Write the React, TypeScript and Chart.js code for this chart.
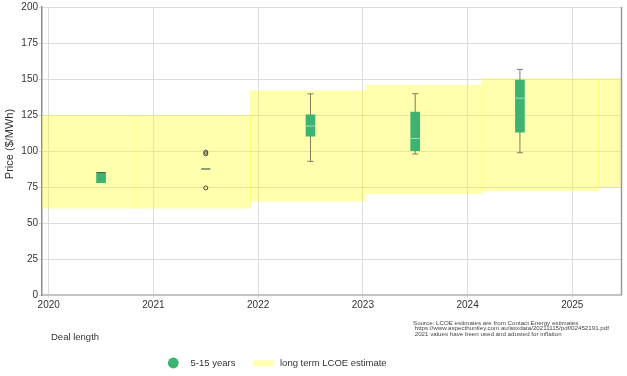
import React, { useEffect, useRef } from 'react';
import { Chart, registerables } from 'chart.js';

Chart.register(...registerables);

// ---- tick labels ----
const yearTicks = [2020, 2021, 2022, 2023, 2024, 2025];
const priceTicks = [0, 25, 50, 75, 100, 125, 150, 175, 200];

// ---- long term LCOE estimate bands ----
const bandStart = [2019.7, 2020.81, 2021.922, 2023.024, 2024.134, 2025.245];
const bandEnd = [2020.82, 2021.932, 2023.034, 2024.144, 2025.255, 2026.3];
const bandLow = [60, 60, 65, 70, 72, 75];
const bandHigh = [125, 125, 142, 146, 150.5, 150.5];

// ---- 5-15 years deal prices (box plots) ----
const boxYears = [2020.5, 2021.5, 2022.5, 2023.5, 2024.5];
const whiskerLow: (number | null)[] = [null, null, 92.8, 97.9, 98.8];
const q1 = [78.0, 87.5, 110.3, 100.2, 113.1];
const medians = [85.0, 87.5, 117.3, 108.7, 136.7];
const q3 = [85.1, 87.5, 125.1, 127.0, 149.3];
const whiskerHigh: (number | null)[] = [null, null, 139.7, 139.8, 156.7];
const outlierYears = [2021.5, 2021.5, 2021.5];
const outlierValues = [99.2, 98.1, 74.4];

const legendLabels = ['5-15 years', 'long term LCOE estimate'];
const yTitle = 'Price ($/MWh)';
const xTitle = 'Deal length';
const sourceLines = [
  'Source: LCOE estimates are from Contact Energy estimates',
  ' https://www.aspecthuntley.com.au/asxdata/20211115/pdf/02452191.pdf',
  ' 2021 values have been used and adusted for inflation',
];

const GREEN = '#3cb371';
const YELLOW = 'rgba(255,255,0,0.32)';
const YELLOW_SOLID = '#ffffad';
const WHISKER = '#7d7d62';
const FONT = '"Liberation Sans", Arial, sans-serif';
const TEXT = '#333333';

const extrasPlugin = {
  id: 'extras',
  afterDraw(chart: any) {
    const { ctx, chartArea } = chart;
    ctx.save();
    // right border
    ctx.strokeStyle = '#9a9a9a';
    ctx.lineWidth = 1.5;
    ctx.beginPath();
    ctx.moveTo(chartArea.right, chartArea.top);
    ctx.lineTo(chartArea.right, chartArea.bottom);
    ctx.stroke();

    ctx.fillStyle = TEXT;
    // y title
    ctx.save();
    ctx.translate(10, 144);
    ctx.rotate(-Math.PI / 2);
    ctx.font = `11px ${FONT}`;
    ctx.textAlign = 'center';
    ctx.textBaseline = 'middle';
    ctx.fillText(yTitle, 0, 0);
    ctx.restore();

    // x title
    ctx.font = `9.5px ${FONT}`;
    ctx.textAlign = 'left';
    ctx.textBaseline = 'alphabetic';
    ctx.fillText(xTitle, 51, 340);

    // source
    ctx.font = `6.2px ${FONT}`;
    ctx.fillStyle = '#444';
    sourceLines.forEach((l, i) => ctx.fillText(l, 413, 324.5 + i * 5.9));

    // legend
    ctx.fillStyle = GREEN;
    ctx.beginPath();
    ctx.arc(173.3, 363, 5.4, 0, Math.PI * 2);
    ctx.fill();
    ctx.fillStyle = YELLOW_SOLID;
    ctx.fillRect(253.3, 360.3, 20, 6);
    ctx.fillStyle = TEXT;
    ctx.font = `9.5px ${FONT}`;
    ctx.textBaseline = 'middle';
    ctx.fillText(legendLabels[0], 190.5, 363.5);
    ctx.fillText(legendLabels[1], 280, 363.5);
    ctx.restore();
  },
};

export default function App() {
  const ref = useRef<HTMLCanvasElement>(null);
  useEffect(() => {
    const bandDatasets = bandStart.map((s, i) => ({
      type: 'line',
      label: legendLabels[1],
      data: [
        { x: s, y: bandHigh[i] },
        { x: bandEnd[i], y: bandHigh[i] },
      ],
      borderWidth: 0,
      borderColor: 'rgba(0,0,0,0)',
      backgroundColor: YELLOW,
      fill: { value: bandLow[i] },
      pointRadius: 0,
      order: 10,
    }));

    const whiskerData: any[] = [];
    const capData: any[] = [];
    boxYears.forEach((x, i) => {
      if (whiskerLow[i] != null && whiskerHigh[i] != null) {
        whiskerData.push({ x, y: whiskerLow[i] }, { x, y: whiskerHigh[i] }, { x, y: null });
        capData.push({ x, y: whiskerLow[i] }, { x, y: whiskerHigh[i] });
      }
    });

    const chart = new Chart(ref.current!, {
      type: 'scatter',
      data: {
        datasets: [
          ...bandDatasets,
          {
            type: 'line',
            label: 'whiskers',
            data: whiskerData,
            borderColor: WHISKER,
            borderWidth: 1,
            pointRadius: 0,
            spanGaps: false,
            fill: false,
            order: 5,
          },
          {
            type: 'scatter',
            label: 'caps',
            data: capData,
            pointStyle: 'line',
            radius: 3,
            borderColor: WHISKER,
            borderWidth: 1,
            order: 4,
          },
          {
            type: 'bar',
            label: legendLabels[0],
            data: boxYears.map((x, i) => ({ x, y: [q1[i], q3[i]] })),
            backgroundColor: GREEN,
            borderWidth: 0,
            barThickness: 9,
            order: 3,
          },
          {
            type: 'scatter',
            label: 'median',
            data: boxYears.map((x, i) => ({ x, y: medians[i] })),
            pointStyle: 'line',
            radius: 4.5,
            borderWidth: 1,
            borderColor: boxYears.map((_, i) => (q3[i] - q1[i] > 10 ? 'rgba(255,255,255,0.55)' : '#3f5f45')),
            order: 1,
          },
          {
            type: 'scatter',
            label: 'outliers',
            data: outlierYears.map((x, i) => ({ x, y: outlierValues[i] })),
            pointStyle: 'circle',
            radius: 2,
            borderWidth: 1,
            borderColor: '#444',
            backgroundColor: 'rgba(255,255,255,0)',
            order: 1,
          },
        ] as any,
      },
      options: {
        animation: false,
        responsive: true,
        maintainAspectRatio: false,
        events: [],
        layout: { padding: { left: 0, right: 3, top: 7, bottom: 64 } },
        plugins: {
          legend: { display: false },
          tooltip: { enabled: false },
          title: { display: false },
        },
        scales: {
          x: {
            type: 'linear',
            min: 2019.936,
            max: 2025.47,
            offset: false,
            afterBuildTicks: (scale: any) => {
              scale.ticks = yearTicks.map((v) => ({ value: v }));
            },
            ticks: {
              callback: (v: any) => String(v),
              font: { size: 10, family: FONT },
              color: TEXT,
              padding: 1,
              maxRotation: 0,
              autoSkip: false,
            },
            grid: { color: '#dcdcdc', tickLength: 3, offset: false },
            border: { color: '#c4c4c4', width: 2 },
          },
          y: {
            type: 'linear',
            min: 0,
            max: 200,
            afterFit: (scale: any) => {
              scale.width = 42;
            },
            afterBuildTicks: (scale: any) => {
              scale.ticks = priceTicks.map((v) => ({ value: v }));
            },
            ticks: {
              font: { size: 10, family: FONT },
              color: TEXT,
              padding: 1,
            },
            grid: { color: '#dcdcdc', tickLength: 3 },
            border: { color: '#8c8c8c', width: 1.5 },
          },
        },
      } as any,
      plugins: [extrasPlugin],
    });
    return () => chart.destroy();
  }, []);
  return (
    <div style={{ position: 'absolute', left: 0, top: 0, width: 627, height: 376 }}>
      <canvas ref={ref} />
    </div>
  );
}
